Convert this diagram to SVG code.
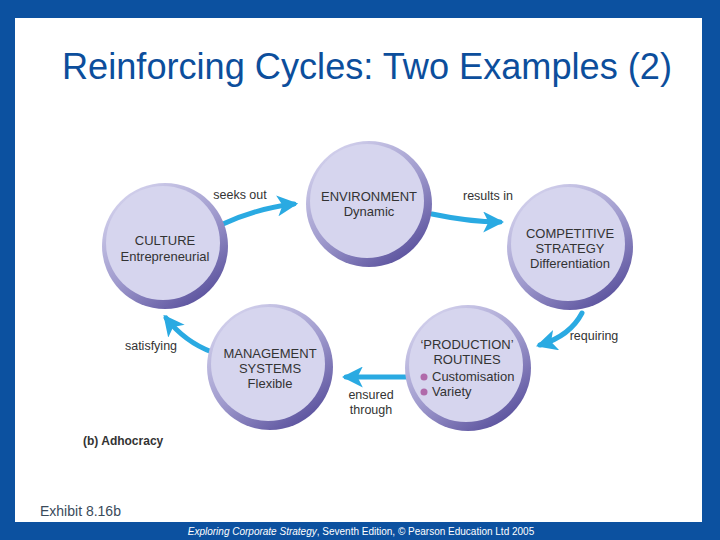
<svg xmlns="http://www.w3.org/2000/svg" width="720" height="540" viewBox="0 0 720 540">
<defs>
<linearGradient id="rim" x1="0.2" y1="0.1" x2="0.8" y2="0.95">
<stop offset="0" stop-color="#CFCDEA"/>
<stop offset="0.5" stop-color="#9F9ACD"/>
<stop offset="1" stop-color="#5A519D"/>
</linearGradient>
<marker id="ah" viewBox="0 0 10 10" refX="8" refY="5" markerWidth="4.2" markerHeight="4.2" orient="auto" markerUnits="strokeWidth">
<path d="M0,0 L10,5 L0,10 L2.5,5 Z" fill="#2AAAE2"/>
</marker>
<style>
.rim{fill:url(#rim)}
.in{fill:#D6D5EE}
.t{font-family:"Liberation Sans",Arial,sans-serif;font-size:13px;fill:#333;text-anchor:middle}
.s{text-anchor:start}
.l{font-family:"Liberation Sans",Arial,sans-serif;font-size:12.5px;fill:#333;text-anchor:middle}
.c{fill:none;stroke:#2AAAE2;stroke-width:5;stroke-linecap:round;marker-end:url(#ah)}
</style>
</defs>
<rect x="0" y="0" width="720" height="540" fill="#0C51A0"/>
<rect x="15" y="18" width="687" height="504" fill="#FFFFFF"/>
<text x="62" y="79" font-family="Liberation Sans,Arial,sans-serif" font-size="36" fill="#0C4E9C" textLength="610" lengthAdjust="spacingAndGlyphs">Reinforcing Cycles: Two Examples (2)</text>

<g id="connectors">
<path class="c" d="M223,224 Q258,208 294,204"/>
<path class="c" d="M432,214 Q470,222 500,222"/>
<path class="c" d="M582,313 Q570,336 540,345"/>
<path class="c" d="M407,377 L346,377"/>
<path class="c" d="M212,352 Q185,342 166,318"/>
<text class="l" x="240" y="199">seeks out</text>
<text class="l" x="488" y="200">results in</text>
<text class="l" x="594" y="340">requiring</text>
<text class="l" x="151" y="350">satisfying</text>
<text class="l" x="371" y="399">ensured</text>
<text class="l" x="371" y="414">through</text>
</g>

<g id="environment">
<circle class="rim" cx="369" cy="204" r="63"/>
<circle class="in" cx="367" cy="201" r="57"/>
<text class="t" x="369" y="201">ENVIRONMENT</text>
<text class="t" x="369" y="216">Dynamic</text>
</g>
<g id="culture">
<circle class="rim" cx="165" cy="246" r="63"/>
<circle class="in" cx="163" cy="243" r="57"/>
<text class="t" x="165" y="245">CULTURE</text>
<text class="t" x="165" y="261">Entrepreneurial</text>
</g>
<g id="competitive">
<circle class="rim" cx="570" cy="247" r="63"/>
<circle class="in" cx="568" cy="244" r="57"/>
<text class="t" x="570" y="238">COMPETITIVE</text>
<text class="t" x="570" y="253">STRATEGY</text>
<text class="t" x="570" y="268">Differentiation</text>
</g>
<g id="management">
<circle class="rim" cx="270" cy="367" r="63"/>
<circle class="in" cx="268" cy="364" r="57"/>
<text class="t" x="270" y="358">MANAGEMENT</text>
<text class="t" x="270" y="373">SYSTEMS</text>
<text class="t" x="270" y="388">Flexible</text>
</g>
<g id="production">
<circle class="rim" cx="468" cy="368" r="63"/>
<circle class="in" cx="466" cy="365" r="57"/>
<text class="t" x="467" y="349">‘PRODUCTION’</text>
<text class="t" x="467" y="364">ROUTINES</text>
<circle cx="424" cy="377" r="3.5" fill="#B06AAA"/>
<circle cx="424" cy="392" r="3.5" fill="#B06AAA"/>
<text class="t s" x="432" y="381">Customisation</text>
<text class="t s" x="432" y="396">Variety</text>
</g>

<text x="83" y="445" font-family="Liberation Sans,Arial,sans-serif" font-size="12" font-weight="bold" fill="#333">(b) Adhocracy</text>
<text x="40" y="516" font-family="Liberation Sans,Arial,sans-serif" font-size="14" fill="#3A4A5A">Exhibit 8.16b</text>
<text x="361" y="535" font-family="Liberation Sans,Arial,sans-serif" font-size="10" fill="#FFFFFF" text-anchor="middle"><tspan font-style="italic">Exploring Corporate Strategy</tspan>, Seventh Edition, © Pearson Education Ltd 2005</text>
</svg>
